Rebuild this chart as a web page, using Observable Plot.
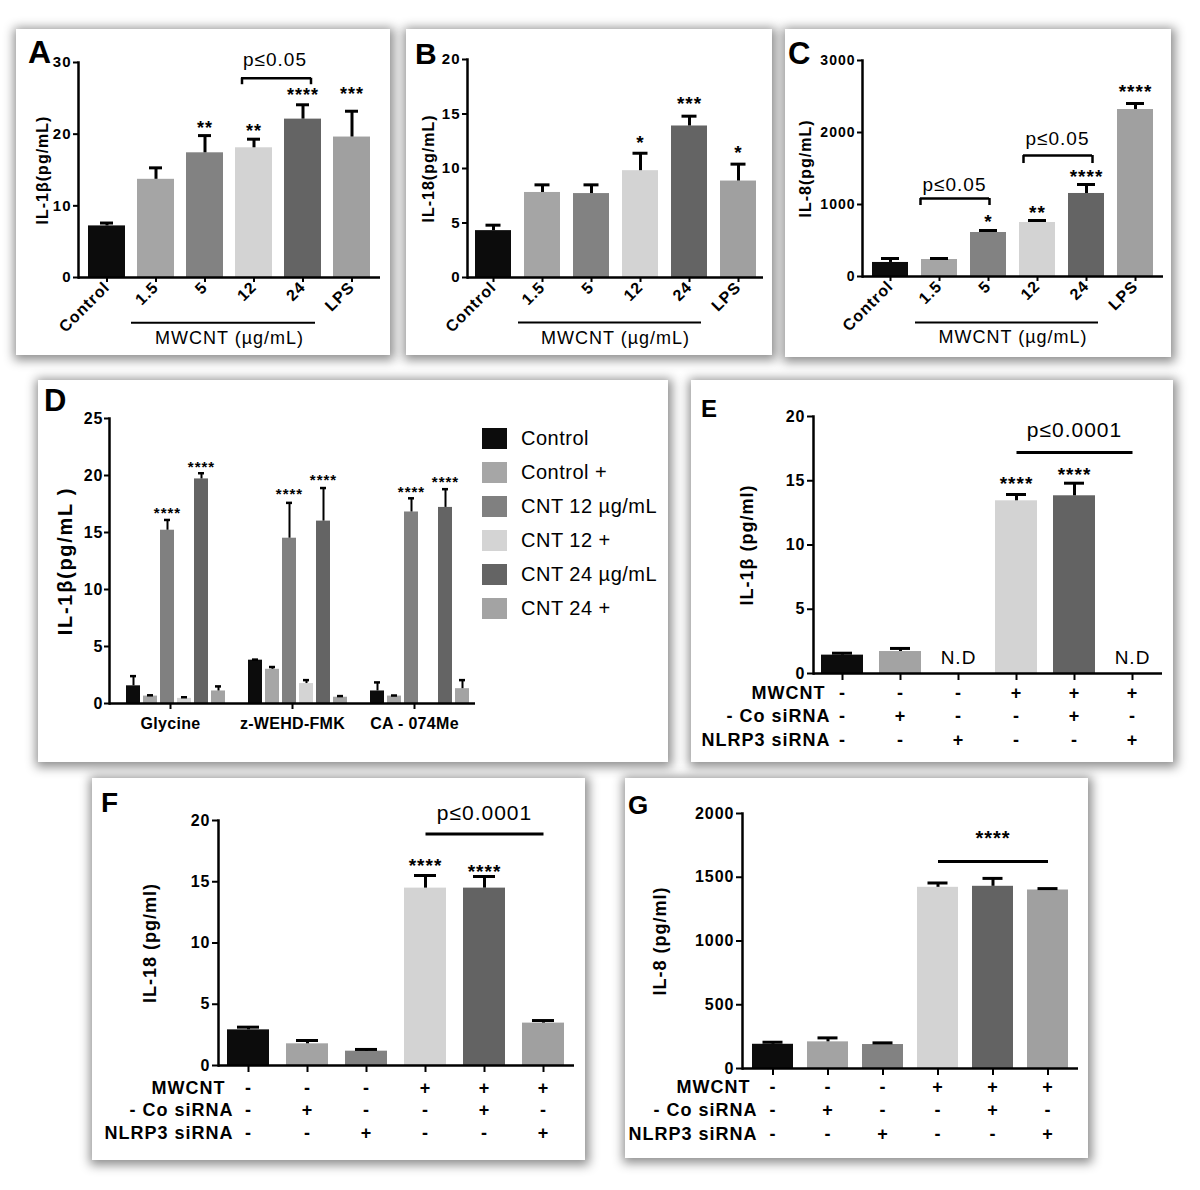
<!DOCTYPE html>
<html><head><meta charset="utf-8">
<script src="https://cdn.jsdelivr.net/npm/d3@7"></script>
<script src="https://cdn.jsdelivr.net/npm/@observablehq/plot@0.6"></script>
<style>
html,body{margin:0;padding:0;background:#fff;}
body{width:1200px;height:1190px;position:relative;overflow:hidden;font-family:"Liberation Sans",Arial,sans-serif;color:#000;}
.panel{position:absolute;background:#fff;box-shadow:1px 2px 10px 3px rgba(0,0,0,0.45);}
.panel > svg{position:absolute;left:0;top:0;overflow:visible;}
.letter{position:absolute;font-weight:bold;line-height:1;}
.legwrap{position:absolute;width:210px;}
.dleg-swatch{padding-bottom:11px !important;}
.dleg-swatch svg{margin-right:14px !important;}
</style></head><body>
<script>
const FONT = '"Liberation Sans", Arial, Helvetica, sans-serif';

// ---------------- DATA ----------------
// Panels A-C
const catsABC = ["Control", "1.5", "5", "12", "24", "LPS"];
const colorsABC = ["#0c0c0c", "#a5a5a5", "#828282", "#d3d3d3", "#646464", "#a0a0a0"];

const aMean  = [7.2, 13.7, 17.4, 18.1, 22.1, 19.6];
const aErr   = [7.6, 15.3, 19.8, 19.3, 24.1, 23.2];
const aStars = ["", "", "**", "**", "****", "***"];
const aStarY = [null, null, 21.5, 21.1, 26.1, 26.2];

const bMean  = [4.3, 7.8, 7.7, 9.8, 13.9, 8.85];
const bErr   = [4.8, 8.5, 8.5, 11.4, 14.8, 10.4];
const bStars = ["", "", "", "*", "***", "*"];
const bStarY = [null, null, null, 12.8, 16.4, 11.9];

const cMean  = [195, 236, 611, 750, 1153, 2319];
const cErr   = [250, 250, 639, 778, 1278, 2403];
const cStars = ["", "", "*", "**", "****", "****"];
const cStarY = [null, null, 819, 944, 1444, 2625];

// Panel D
const groupsD = ["Glycine", "z-WEHD-FMK", "CA - 074Me"];
const seriesD = ["Control", "Control +", "CNT 12 µg/mL", "CNT 12 +", "CNT 24 µg/mL", "CNT 24 +"];
const colorsD = ["#0c0c0c", "#a6a6a6", "#808080", "#d4d4d4", "#646464", "#a3a3a3"];
const dGlycine    = [1.55, 0.65, 15.2, 0.45, 19.7, 1.1];
const dGlycineErr = [2.4, 0.72, 16.1, 0.55, 20.2, 1.5];
const dWEHD       = [3.8, 3.0, 14.5, 1.75, 16.0, 0.55];
const dWEHDErr    = [3.85, 3.2, 17.6, 2.05, 18.9, 0.65];
const dCA         = [1.1, 0.65, 16.8, null, 17.2, 1.3];
const dCAErr      = [1.85, 0.7, 18.0, null, 18.8, 2.05];
const dStars      = ["", "", "****", "", "****", ""];
const dStarY      = [[null, null, 17.0, null, 21.05, null], [null, null, 18.7, null, 19.9, null], [null, null, 18.9, null, 19.7, null]];

// Panels E-G
const catsSi = ["Control", "Co siRNA", "NLRP3 siRNA", "MWCNT", "MWCNT + Co siRNA", "MWCNT + NLRP3 siRNA"];
const colorsSi = ["#0c0c0c", "#a3a3a3", "#828282", "#d3d3d3", "#636363", "#a0a0a0"];
const rowLabels = ["MWCNT", "- Co siRNA", "NLRP3 siRNA"];
const rowMWCNT = ["-", "-", "-", "+", "+", "+"];
const rowCo    = ["-", "+", "-", "-", "+", "-"];
const rowNLRP3 = ["-", "-", "+", "-", "-", "+"];

const eMean  = [1.43, 1.71, null, 13.44, 13.83, null];
const eErr   = [1.58, 1.95, null, 13.93, 14.81, null];
const eStars = ["", "", "", "****", "****", ""];
const eStarY = [null, null, null, 15.1, 15.8, null];
const eND    = ["", "", "N.D", "", "", "N.D"];

const fMean  = [2.91, 1.77, 1.17, 14.48, 14.48, 3.46];
const fErr   = [3.13, 2.04, 1.31, 15.51, 15.43, 3.67];
const fStars = ["", "", "", "****", "****", ""];
const fStarY = [null, null, null, 16.7, 16.2, null];

const gMean  = [190, 209, 188, 1421, 1429, 1400];
const gErr   = [206, 240, 201, 1455, 1491, 1411];
const gStars = ["", "", "", "", "", ""];
const gStarY = [null, null, null, null, null, null];

// ---------------- HELPERS ----------------
const baseStyle = {fontFamily: FONT, color: "#000", background: "transparent", overflow: "visible", letterSpacing: "1px"};
const plain = d => String(d);

function spacing(svg, label, ls) {
  d3.select(svg).selectAll("text").filter(function () { return this.textContent === label; }).style("letter-spacing", ls);
}

function makePanel(box, letter, letterSize, letterXY) {
  const div = document.createElement("div");
  div.className = "panel";
  Object.assign(div.style, {left: box[0] + "px", top: box[1] + "px", width: box[2] + "px", height: box[3] + "px"});
  document.body.appendChild(div);
  const L = document.createElement("div");
  L.className = "letter";
  L.textContent = letter;
  Object.assign(L.style, {left: letterXY[0] + "px", top: letterXY[1] + "px", fontSize: letterSize + "px"});
  div.appendChild(L);
  return div;
}

function rotatedPanel(o) {
  const div = makePanel(o.box, o.letter, o.letterSize, o.letterXY);
  const rows = catsABC.map((c, i) => ({c, v: o.mean[i], e: o.err[i], star: o.stars[i], sy: o.starY[i]}));
  const marks = [
    Plot.barY(rows, {x: "c", y: "v", fill: "c"}),
    Plot.ruleX(rows, {x: "c", y1: "v", y2: "e", stroke: "#000", strokeWidth: 3}),
    Plot.tickY(rows, {x: "c", y: "e", stroke: "#000", strokeWidth: 3, inset: o.capInset}),
    Plot.text(rows.filter(d => d.star), {x: "c", y: "sy", text: "star", fontSize: o.starSize, fontWeight: "bold", dy: o.starSize * 0.25}),
    Plot.ruleY([0], {stroke: "#000", strokeWidth: 2.5}),
    Plot.frame({anchor: "left", stroke: "#000", strokeWidth: 2.5}),
    Plot.axisY({ticks: o.yTicks, tickFormat: plain, tickSize: 5, tickPadding: 2, fontSize: o.tickFont, fontWeight: "bold", strokeWidth: 2, label: null}),
    Plot.axisX({tickRotate: -45, tickSize: 5, tickPadding: 2, fontSize: 16, fontWeight: "bold", strokeWidth: 2, label: null}),
    Plot.ruleY([o.groupLineY], {y: d => d, x1: () => "1.5", x2: () => "24", stroke: "#000", strokeWidth: 2, insetLeft: -6, insetRight: 6}),
    Plot.text(["MWCNT (µg/mL)"], {text: d => d, frameAnchor: "bottom", lineAnchor: "middle", dy: 61, fontSize: 18}),
    Plot.text([o.yLabel], {text: d => d, frameAnchor: "left", textAnchor: "middle", lineAnchor: "middle", dx: o.yLabelDx, rotate: -90, fontSize: 16, fontWeight: "bold"})
  ];
  for (const b of o.brackets) {
    marks.push(
      Plot.ruleY([b], {y: "y", x1: "from", x2: "to", stroke: "#000", strokeWidth: 2.5, insetLeft: b.inset[0], insetRight: b.inset[1]}),
      Plot.ruleX([b], {x: "from", y1: "leg", y2: "y", stroke: "#000", strokeWidth: 2.5, dx: b.legDx[0]}),
      Plot.ruleX([b], {x: "to", y1: "leg", y2: "y", stroke: "#000", strokeWidth: 2.5, dx: b.legDx[1]}),
      Plot.text([b], {x: "from", y: "textY", text: "text", dx: b.textDx, fontSize: 19})
    );
  }
  const [mt, mr, mb, ml] = o.margins;
  const svg = Plot.plot({
    width: o.box[2], height: o.box[3],
    marginTop: mt, marginRight: mr, marginBottom: mb, marginLeft: ml,
    style: baseStyle,
    x: {domain: catsABC, paddingInner: o.pi, paddingOuter: o.po},
    y: {domain: o.yDomain},
    color: {domain: catsABC, range: colorsABC},
    marks
  });
  div.appendChild(svg);
}

function siPanel(o) {
  const div = makePanel(o.box, o.letter, o.letterSize, o.letterXY);
  const rows = catsSi.map((c, i) => ({c, v: o.mean[i], e: o.err[i], star: o.stars[i], sy: o.starY[i], nd: o.nd ? o.nd[i] : ""}));
  const has = rows.filter(d => d.v != null);
  const signRows = [rowMWCNT, rowCo, rowNLRP3];
  const marks = [
    Plot.barY(has, {x: "c", y: "v", fill: "c"}),
    Plot.ruleX(has, {x: "c", y1: "v", y2: "e", stroke: "#000", strokeWidth: 3}),
    Plot.tickY(has, {x: "c", y: "e", stroke: "#000", strokeWidth: 3, inset: o.capInset}),
    Plot.text(rows.filter(d => d.star), {x: "c", y: "sy", text: "star", fontSize: 19, fontWeight: "bold", dy: 19 * 0.25}),
    Plot.text(rows.filter(d => d.nd), {x: "c", y: () => o.ndY, text: "nd", fontSize: 19}),
    Plot.ruleY([0], {stroke: "#000", strokeWidth: 2.5}),
    Plot.frame({anchor: "left", stroke: "#000", strokeWidth: 2.5}),
    Plot.axisY({ticks: o.yTicks, tickFormat: plain, tickSize: 6, tickPadding: 2, fontSize: 16, fontWeight: "bold", strokeWidth: 2, label: null}),
    Plot.axisX({tickSize: 7, tickFormat: () => "", strokeWidth: 2, label: null}),
    Plot.link([o.pLineY], {x1: () => catsSi[3], x2: () => catsSi[5], y1: d => d, y2: d => d, stroke: "#000", strokeWidth: 3}),
    Plot.text([o.pText], {x: () => catsSi[4], y: () => o.pTextY, text: d => d, fontSize: o.pTextSize, fontWeight: o.pTextWeight, dy: o.pTextDy}),
    Plot.text([o.yLabel], {text: d => d, frameAnchor: "left", textAnchor: "middle", lineAnchor: "middle", dx: o.yLabelDx, rotate: -90, fontSize: 18, fontWeight: "bold"})
  ];
  signRows.forEach((signs, r) => {
    marks.push(
      Plot.text(rows, {x: "c", text: (d, i) => signs[i], frameAnchor: "bottom", lineAnchor: "middle", dy: o.rowDy[r], fontSize: 18, fontWeight: "bold"}),
      Plot.text([rowLabels[r]], {text: d => d, frameAnchor: "bottom-left", lineAnchor: "middle", dx: o.rowLabelDx[r], dy: o.rowDy[r], textAnchor: "end", fontSize: 18, fontWeight: "bold"})
    );
  });
  const [mt, mr, mb, ml] = o.margins;
  const svg = Plot.plot({
    width: o.box[2], height: o.box[3],
    marginTop: mt, marginRight: mr, marginBottom: mb, marginLeft: ml,
    style: baseStyle,
    x: {domain: catsSi, paddingInner: o.pi, paddingOuter: o.po},
    y: {domain: o.yDomain},
    color: {domain: catsSi, range: colorsSi},
    marks
  });
  div.appendChild(svg);
}

// ---------------- PANELS A, B, C ----------------
rotatedPanel({
  box: [16, 29, 374, 326], letter: "A", letterSize: 32, letterXY: [12, 7],
  margins: [33, 10, 78, 62],
  mean: aMean, err: aErr, stars: aStars, starY: aStarY, starSize: 18,
  yDomain: [0, 30], yTicks: [0, 10, 20, 30], tickFont: 15,
  pi: 0.255, po: 0.166, capInset: 12,
  yLabel: "IL-1β(pg/mL)", yLabelDx: -36,
  groupLineY: -6.3,
  brackets: [{from: "12", to: "24", y: 27.8, leg: 26.9, text: "p≤0.05", textY: 30.3, inset: [6, 10], legDx: [-12, 8], textDx: 21}]
});

rotatedPanel({
  box: [406, 29, 366, 326], letter: "B", letterSize: 30, letterXY: [9, 10],
  margins: [30, 9, 78, 61],
  mean: bMean, err: bErr, stars: bStars, starY: bStarY, starSize: 19,
  yDomain: [0, 20], yTicks: [0, 5, 10, 15, 20], tickFont: 15,
  pi: 0.27, po: 0.143, capInset: 10.5,
  yLabel: "IL-18(pg/mL)", yLabelDx: -39,
  groupLineY: -4.13,
  brackets: []
});

rotatedPanel({
  box: [785, 29, 386, 328], letter: "C", letterSize: 31, letterXY: [3, 9],
  margins: [31, 8, 81, 77],
  mean: cMean, err: cErr, stars: cStars, starY: cStarY, starSize: 19,
  yDomain: [0, 3000], yTicks: [0, 1000, 2000, 3000], tickFont: 14,
  pi: 0.274, po: 0.171, capInset: 9,
  yLabel: "IL-8(pg/mL)", yLabelDx: -57,
  groupLineY: -639,
  brackets: [
    {from: "1.5", to: "5", y: 1083, leg: 986, text: "p≤0.05", textY: 1278, inset: [-1, 17], legDx: [-19, 1], textDx: 15},
    {from: "12", to: "24", y: 1680, leg: 1569, text: "p≤0.05", textY: 1917, inset: [4, 12], legDx: [-14, 6], textDx: 20}
  ]
});

// ---------------- PANEL D ----------------
(function () {
  const div = makePanel([38, 380, 630, 382], "D", 31, [6, 5]);
  const means = [dGlycine, dWEHD, dCA];
  const errs = [dGlycineErr, dWEHDErr, dCAErr];
  const rows = [];
  groupsD.forEach((g, gi) => seriesD.forEach((s, si) => rows.push({g, s, v: means[gi][si], e: errs[gi][si], star: dStars[si], sy: dStarY[gi][si]})));
  const has = rows.filter(d => d.v != null);
  const yLabelD = "IL-1β(pg/mL )";
  const svg = Plot.plot({
    width: 630, height: 382,
    marginTop: 38, marginRight: 192, marginBottom: 59, marginLeft: 70,
    style: baseStyle,
    fx: {domain: groupsD, padding: 0, label: null},
    x: {domain: seriesD, paddingInner: 0.157, paddingOuter: 0.525, align: 0.73, axis: null},
    y: {domain: [0, 25]},
    color: {domain: seriesD, range: colorsD},
    marks: [
      Plot.barY(has, {fx: "g", x: "s", y: "v", fill: "s"}),
      Plot.ruleX(has, {fx: "g", x: "s", y1: "v", y2: "e", stroke: "#000", strokeWidth: 2}),
      Plot.tickY(has, {fx: "g", x: "s", y: "e", stroke: "#000", strokeWidth: 2.5, inset: 4}),
      Plot.text(rows.filter(d => d.star), {fx: "g", x: "s", y: "sy", text: "star", fontSize: 15, fontWeight: "bold", dy: 15 * 0.25}),
      Plot.ruleY([0], {stroke: "#000", strokeWidth: 2.5}),
      Plot.frame({anchor: "left", stroke: "#000", strokeWidth: 2.5, facetAnchor: "left"}),
      Plot.axisY({ticks: [0, 5, 10, 15, 20, 25], tickFormat: plain, tickSize: 5, tickPadding: 1, fontSize: 16, fontWeight: "bold", strokeWidth: 2, label: null}),
      Plot.axisFx({anchor: "bottom", tickSize: 6, tickPadding: 8, fontSize: 16, fontWeight: "bold", strokeWidth: 2, label: null}),
      Plot.text([yLabelD], {text: d => d, frameAnchor: "left", textAnchor: "middle", lineAnchor: "middle", dx: -44, rotate: -90, fontSize: 20, fontWeight: "bold", facetAnchor: "left"})
    ]
  });
  spacing(svg, yLabelD, "1.7px");
  groupsD.forEach(g => spacing(svg, g, "0.3px"));
  div.appendChild(svg);
  const wrap = document.createElement("div");
  wrap.className = "legwrap";
  Object.assign(wrap.style, {left: "444px", top: "47px"});
  wrap.appendChild(Plot.legend({
    color: {domain: seriesD, range: colorsD},
    legend: "swatches", columns: 1, swatchWidth: 25, swatchHeight: 21, className: "dleg",
    style: {fontSize: "20px", fontFamily: FONT, color: "#000", letterSpacing: "0.5px"}
  }));
  div.appendChild(wrap);
})();

// ---------------- PANELS E, F, G ----------------
siPanel({
  box: [691, 380, 482, 382], letter: "E", letterSize: 24, letterXY: [10, 17],
  margins: [36, 11, 89, 122],
  mean: eMean, err: eErr, stars: eStars, starY: eStarY, nd: eND, ndY: 1.25,
  yDomain: [0, 20], yTicks: [0, 5, 10, 15, 20],
  pi: 0.275, po: 0.13, capInset: 11,
  yLabel: "IL-1β (pg/ml)", yLabelDx: -66,
  rowDy: [20, 43, 67], rowLabelDx: [12, 17, 17],
  pLineY: 17.2, pText: "p≤0.0001", pTextY: 18.9, pTextSize: 21, pTextWeight: "normal", pTextDy: 0
});

siPanel({
  box: [92, 778, 493, 382], letter: "F", letterSize: 28, letterXY: [9, 11],
  margins: [42, 11, 95, 126],
  mean: fMean, err: fErr, stars: fStars, starY: fStarY,
  yDomain: [0, 20], yTicks: [0, 5, 10, 15, 20],
  pi: 0.28, po: 0.12, capInset: 10,
  yLabel: "IL-18 (pg/ml)", yLabelDx: -68,
  rowDy: [23, 45, 68], rowLabelDx: [7, 15, 15],
  pLineY: 18.9, pText: "p≤0.0001", pTextY: 20.6, pTextSize: 21, pTextWeight: "normal", pTextDy: 0
});

siPanel({
  box: [625, 778, 463, 380], letter: "G", letterSize: 26, letterXY: [3, 14],
  margins: [35, 10, 90, 117],
  mean: gMean, err: gErr, stars: gStars, starY: gStarY,
  yDomain: [0, 2000], yTicks: [0, 500, 1000, 1500, 2000],
  pi: 0.26, po: 0.145, capInset: 10.5,
  yLabel: "IL-8 (pg/ml)", yLabelDx: -82,
  rowDy: [19, 42, 66], rowLabelDx: [8, 15, 15],
  pLineY: 1624, pText: "****", pTextY: 1843, pTextSize: 20, pTextWeight: "bold", pTextDy: 5
});
</script>
</body></html>
